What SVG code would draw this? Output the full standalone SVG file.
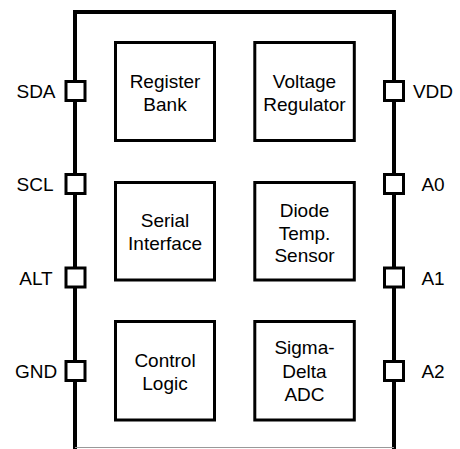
<svg xmlns="http://www.w3.org/2000/svg" width="460" height="449" viewBox="0 0 460 449">
<style>
text{font-family:"Liberation Sans",Arial,sans-serif;font-size:19px;fill:#000;text-anchor:middle}
.box{fill:#fff;stroke:#000;stroke-width:3}
.pin{fill:#fff;stroke:#000;stroke-width:3}
.frame{fill:none;stroke:#000;stroke-width:4}
</style>
<g id="connectors">
<path class="frame" d="M75,449 V12 H394 V449"/>
<line x1="75" y1="447.5" x2="394" y2="447.5" stroke="#999" stroke-width="1"/>
</g>
<g id="pin-SDA"><rect class="pin" x="66" y="81.5" width="19" height="19"/><text x="36" y="98">SDA</text></g>
<g id="pin-SCL"><rect class="pin" x="66" y="174.5" width="19" height="19"/><text x="35" y="191">SCL</text></g>
<g id="pin-ALT"><rect class="pin" x="66" y="268" width="19" height="19"/><text x="36" y="284.5">ALT</text></g>
<g id="pin-GND"><rect class="pin" x="66" y="361.5" width="19" height="19"/><text x="36" y="378">GND</text></g>
<g id="pin-VDD"><rect class="pin" x="384.5" y="81.5" width="19" height="19"/><text x="433" y="98">VDD</text></g>
<g id="pin-A0"><rect class="pin" x="384.5" y="174.5" width="19" height="19"/><text x="433" y="191">A0</text></g>
<g id="pin-A1"><rect class="pin" x="384.5" y="268" width="19" height="19"/><text x="433" y="284.5">A1</text></g>
<g id="pin-A2"><rect class="pin" x="384.5" y="361.5" width="19" height="19"/><text x="433" y="378">A2</text></g>
<g id="register-bank"><rect class="box" x="115.5" y="42.5" width="99" height="98"/><text x="165" y="87.5">Register</text><text x="165" y="110.5">Bank</text></g>
<g id="voltage-regulator"><rect class="box" x="254.8" y="42.5" width="99.5" height="98"/><text x="304.5" y="87.5">Voltage</text><text x="304.5" y="110.5">Regulator</text></g>
<g id="serial-interface"><rect class="box" x="115.5" y="182.5" width="99" height="97.5"/><text x="165" y="226.5">Serial</text><text x="165" y="249.5">Interface</text></g>
<g id="diode-temp-sensor"><rect class="box" x="254.8" y="182.5" width="99.5" height="97.5"/><text x="304.5" y="217">Diode</text><text x="304.5" y="240">Temp.</text><text x="304.5" y="262">Sensor</text></g>
<g id="control-logic"><rect class="box" x="115.5" y="321.5" width="99" height="98.5"/><text x="165" y="367">Control</text><text x="165" y="390">Logic</text></g>
<g id="sigma-delta-adc"><rect class="box" x="254.8" y="321.5" width="99.5" height="98.5"/><text x="304.5" y="354">Sigma-</text><text x="304.5" y="377.5">Delta</text><text x="304.5" y="401">ADC</text></g>
</svg>
